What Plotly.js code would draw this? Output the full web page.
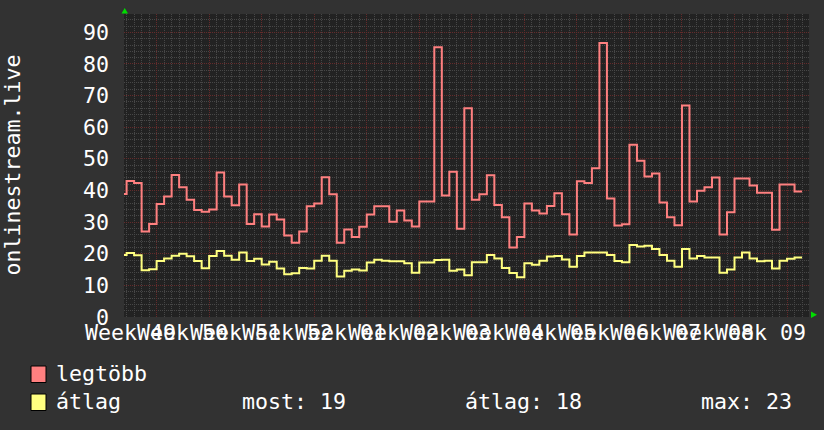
<!DOCTYPE html>
<html>
<head>
<meta charset="utf-8">
<script src="https://cdn.plot.ly/plotly-3.0.1.min.js"></script>
<style>
html,body{margin:0;padding:0;background:#323232;}
#chart{width:824px;height:430px;}
</style>
</head>
<body>
<div id="chart"></div>
<script>
// Day index of the first sample (days since the week-49 grid origin)
const firstDay = -1;

// legtöbb (maximum) per day
const maxVals = [38.9,
  43.0,42.4,27.0,29.4,35.7,38.1,44.9,41.0,37.1,33.8,
  33.3,34.0,45.7,38.1,35.3,41.9,29.4,32.5,28.6,32.4,
  30.8,25.8,23.5,27.0,35.0,35.9,44.2,38.8,23.5,27.7,
  25.3,28.5,32.4,35.0,35.0,30.1,33.7,30.5,28.6,36.5,
  36.5,85.3,38.4,45.9,27.9,66.0,37.1,38.8,44.8,35.4,
  31.5,22.0,25.3,35.9,33.7,32.7,35.1,39.1,32.5,26.1,
  42.9,42.4,47.0,86.6,37.5,28.9,29.3,54.5,49.4,44.4,
  45.4,36.2,31.5,29.0,66.9,36.5,39.9,41.0,44.1,26.1,
  33.1,43.8,43.8,41.6,39.3,39.3,27.6,41.9,41.9,39.7];

// átlag (average) per day
const avgVals = [19.6,
  20.2,19.5,14.8,15.1,17.7,18.5,19.4,20.0,19.2,17.7,
  15.4,19.3,20.9,19.4,18.1,20.4,17.7,18.4,16.6,17.5,
  15.3,13.5,13.8,15.5,15.3,17.8,19.4,17.8,12.8,14.6,
  15.0,14.7,17.2,18.1,17.8,17.6,17.6,17.0,14.0,17.2,
  17.2,18.0,18.1,14.6,15.0,13.2,17.3,17.3,19.6,18.5,
  15.5,13.9,12.6,17.0,16.5,17.8,19.1,19.3,18.2,15.9,
  19.3,20.4,20.4,20.4,19.6,17.7,17.3,22.8,22.3,22.5,
  21.5,19.6,17.8,15.9,21.5,18.5,19.3,18.8,18.8,14.0,
  15.0,18.8,20.4,18.5,17.6,17.8,15.3,17.8,18.4,18.8];

const weekLabels = ["Week 49","Week 50","Week 51","Week 52","Week 01","Week 02",
  "Week 03","Week 04","Week 05","Week 06","Week 07","Week 08","Week 09"];

const seriesNames = ["legtöbb", "átlag"];
const statTexts = ["most: 19", "átlag: 18", "max: 23"];
const yTitle = "onlinestream.live";

// ---- layout geometry ----
const L = 124, T = 14, W = 685, H = 303;
const px2x = p => (p - L) / W;
const py2y = p => (T + H - p) / H;
const FONT = "DejaVu Sans Mono, Liberation Mono, monospace";
const FS = 21.6;
const RED = "#ff8080", YEL = "#ffff80";
const MAJ = "#642b2b", MIN = "#474747";

function stepTrace(vals, color, name) {
  const xs = vals.map((v, i) => firstDay + i);
  const ys = vals.slice();
  xs.push(firstDay + vals.length);
  ys.push(vals[vals.length - 1]);
  return {
    x: xs, y: ys, type: "scatter", mode: "lines", name: name,
    line: {shape: "hv", color: color, width: 2},
    hoverinfo: "skip", showlegend: false
  };
}

const traces = [stepTrace(maxVals, RED, seriesNames[0]), stepTrace(avgVals, YEL, seriesNames[1])];

const annotations = [];
weekLabels.forEach((t, i) => {
  annotations.push({
    xref: "x", yref: "paper", x: firstDay + 1.5 + 7 * i, y: py2y(318),
    xanchor: "center", yanchor: "top", text: t, showarrow: false,
    font: {family: FONT, size: FS, color: "#ffffff"}
  });
});
annotations.push({
  xref: "paper", yref: "paper", x: px2x(12), y: 0.5, textangle: -90,
  xanchor: "center", yanchor: "middle", text: yTitle, showarrow: false,
  font: {family: FONT, size: FS, color: "#ffffff"}
});
// legend texts
const legendRows = [373, 401.5];
annotations.push({xref: "paper", yref: "paper", x: px2x(54), y: py2y(legendRows[0]),
  xanchor: "left", yanchor: "middle", text: seriesNames[0], showarrow: false,
  font: {family: FONT, size: FS, color: "#ffffff"}});
annotations.push({xref: "paper", yref: "paper", x: px2x(54), y: py2y(legendRows[1]),
  xanchor: "left", yanchor: "middle", text: seriesNames[1], showarrow: false,
  font: {family: FONT, size: FS, color: "#ffffff"}});
const statX = [240, 463, 699];
statTexts.forEach((t, i) => {
  annotations.push({xref: "paper", yref: "paper", x: px2x(statX[i]), y: py2y(legendRows[1]),
    xanchor: "left", yanchor: "middle", text: t, showarrow: false,
    font: {family: FONT, size: FS, color: "#ffffff"}});
});

const shapes = [
  {type: "rect", xref: "paper", yref: "paper", x0: px2x(31), x1: px2x(46), y0: py2y(366), y1: py2y(382.5),
   fillcolor: RED, line: {color: "#000000", width: 1}},
  {type: "rect", xref: "paper", yref: "paper", x0: px2x(31), x1: px2x(46), y0: py2y(394), y1: py2y(410.5),
   fillcolor: YEL, line: {color: "#000000", width: 1}},
  {type: "path", xref: "paper", yref: "paper",
   path: `M ${px2x(121.5)} ${py2y(13.5)} L ${px2x(128)} ${py2y(13.5)} L ${px2x(124.7)} ${py2y(8)} Z`,
   fillcolor: "#00dd00", line: {width: 0}},
  {type: "path", xref: "paper", yref: "paper",
   path: `M ${px2x(811)} ${py2y(311.5)} L ${px2x(811)} ${py2y(318)} L ${px2x(817)} ${py2y(314.7)} Z`,
   fillcolor: "#00dd00", line: {width: 0}}
];

const layout = {
  width: 824, height: 430,
  margin: {l: L, r: 824 - L - W, t: T, b: 430 - T - H, pad: 0},
  paper_bgcolor: "#323232",
  plot_bgcolor: "#222222",
  showlegend: false,
  font: {family: FONT, size: FS, color: "#ffffff"},
  xaxis: {
    range: [(124 - 126.6) / 7.505, (809 - 126.6) / 7.505],
    tick0: 4, dtick: 7, showticklabels: false, ticks: "",
    showgrid: true, gridcolor: MAJ, gridwidth: 1, griddash: "1px,1px",
    minor: {dtick: 1, tick0: 0, showgrid: true, gridcolor: MIN, gridwidth: 1, griddash: "1px,1px", ticks: ""},
    zeroline: false, showline: false, fixedrange: true
  },
  yaxis: {
    range: [0, 95.8], tick0: 0, dtick: 10, ticks: "",
    ticklabelstandoff: 14,
    tickfont: {family: FONT, size: FS, color: "#ffffff"},
    showgrid: true, gridcolor: MAJ, gridwidth: 1, griddash: "1px,1px",
    minor: {dtick: 2, tick0: 0, showgrid: true, gridcolor: MIN, gridwidth: 1, griddash: "1px,1px", ticks: ""},
    zeroline: false, showline: false, fixedrange: true
  },
  annotations: annotations,
  shapes: shapes
};

Plotly.newPlot("chart", traces, layout, {staticPlot: true, displayModeBar: false});
</script>
</body>
</html>
